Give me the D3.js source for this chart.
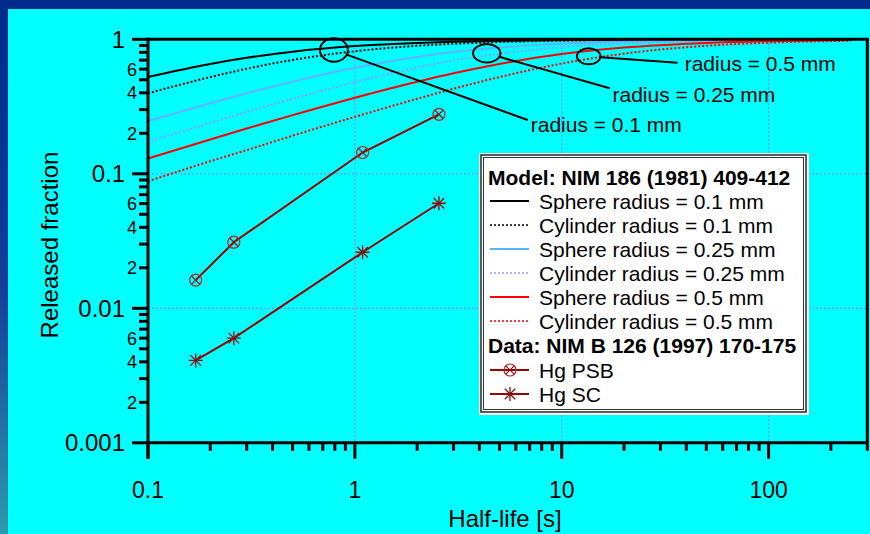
<!DOCTYPE html>
<html>
<head>
<meta charset="utf-8">
<script src="https://cdn.jsdelivr.net/npm/d3@7"></script>
<style>
  html, body { margin: 0; padding: 0; background: #00ffff; }
  svg { display: block; font-family: "Liberation Sans", Arial, sans-serif; }
</style>
</head>
<body>
<svg id="chart" width="870" height="534"></svg>
<script>
// Half-life grid (s) for the diffusion-release model curves
const halfLife = [0.1, 0.2, 0.3, 0.5, 1, 2, 3, 5, 10, 20, 50, 100, 250];

// Released fraction, model NIM 186 (1981) 409-412
const sphere01   = [0.525, 0.656, 0.729, 0.809, 0.890, 0.940, 0.959, 0.975, 0.987, 0.994, 0.997, 0.999, 0.9995];
const cylinder01 = [0.397, 0.524, 0.604, 0.702, 0.815, 0.895, 0.927, 0.954, 0.976, 0.988, 0.995, 0.998, 0.999];
const sphere025   = [0.247, 0.335, 0.397, 0.484, 0.614, 0.740, 0.803, 0.868, 0.927, 0.962, 0.984, 0.992, 0.997];
const cylinder025 = [0.173, 0.239, 0.288, 0.361, 0.481, 0.617, 0.695, 0.782, 0.873, 0.931, 0.971, 0.985, 0.994];
const sphere05   = [0.130, 0.180, 0.217, 0.273, 0.368, 0.484, 0.560, 0.656, 0.776, 0.868, 0.940, 0.969, 0.987];
const cylinder05 = [0.088, 0.124, 0.150, 0.192, 0.265, 0.361, 0.429, 0.524, 0.660, 0.782, 0.895, 0.944, 0.976];

// Measured Hg release, NIM B 126 (1997) 170-175
const hgHalfLife = [0.17, 0.26, 1.09, 2.55];
const hgPSB = [0.0162, 0.031, 0.144, 0.277];
const hgSC  = [0.0041, 0.0060, 0.0261, 0.0604];

// Axis ticks and labels
const xMajorTicks = [0.1, 1, 10, 100];
const xTickLabels = ["0.1", "1", "10", "100"];
const yMajorTicks = [1, 0.1, 0.01, 0.001];
const yTickLabels = ["1", "0.1", "0.01", "0.001"];
const yMinorLabelled = [2, 4, 6];

// Callouts: ellipse centre, leader end and label anchor, in data units
const calloutLabels = ["radius = 0.1 mm", "radius = 0.25 mm", "radius = 0.5 mm"];
const calloutCentre = [[0.792, 0.833], [4.34, 0.788], [13.5, 0.747]];
const calloutLeaderEnd = [[6.85, 0.251], [17.06, 0.432], [36.3, 0.67]];
const calloutText = [[7.08, 0.2056], [17.6, 0.3436], [39.3, 0.584]];

const W = 870, H = 534;
const svg = d3.select("#chart");

// Background: blue gradient frame with cyan panel
const defs = svg.append("defs");
const grad = defs.append("linearGradient").attr("id", "bg")
  .attr("x1", 0).attr("y1", 0).attr("x2", 0).attr("y2", 1);
grad.append("stop").attr("offset", 0).attr("stop-color", "#002a8c");
grad.append("stop").attr("offset", 0.55).attr("stop-color", "#143e9a");
grad.append("stop").attr("offset", 1).attr("stop-color", "#2e9aae");
svg.append("rect").attr("width", W).attr("height", H).attr("fill", "url(#bg)");
svg.append("rect").attr("x", 8).attr("y", 9).attr("width", W - 8).attr("height", H - 9).attr("fill", "#00ffff");

const x = d3.scaleLog().domain([0.1, 300]).range([148, 867.3]);
const y = d3.scaleLog().domain([0.001, 1]).range([442.8, 39.3]);

// Grid lines
const grid = svg.append("g").attr("stroke", "#8a7cff").attr("stroke-width", 1).attr("stroke-dasharray", "2,2");
[1, 10, 100].forEach(v => grid.append("line")
  .attr("x1", x(v)).attr("x2", x(v)).attr("y1", y(1)).attr("y2", y(0.001)));
[0.1, 0.01].forEach(v => grid.append("line")
  .attr("x1", x(0.1)).attr("x2", x(300)).attr("y1", y(v)).attr("y2", y(v)));

// Model curves
const models = [
  { name: "Sphere radius = 0.1 mm",    values: sphere01,    color: "#000000", dotted: false },
  { name: "Cylinder radius = 0.1 mm",  values: cylinder01,  color: "#000000", dotted: true },
  { name: "Sphere radius = 0.25 mm",   values: sphere025,   color: "#5cb4ff", dotted: false },
  { name: "Cylinder radius = 0.25 mm", values: cylinder025, color: "#8c9cff", dotted: true },
  { name: "Sphere radius = 0.5 mm",    values: sphere05,    color: "#ff0000", dotted: false },
  { name: "Cylinder radius = 0.5 mm",  values: cylinder05,  color: "#ff0000", dotted: true }
];
const line = d3.line().x(d => x(d[0])).y(d => y(d[1])).curve(d3.curveMonotoneX);
models.forEach(m => {
  svg.append("path")
    .attr("d", line(halfLife.map((t, i) => [t, m.values[i]])))
    .attr("fill", "none").attr("stroke", m.color).attr("stroke-width", 2)
    .attr("stroke-dasharray", m.dotted ? "2,2" : null);
});

// Data series
const dataLine = d3.line().x(d => x(d[0])).y(d => y(d[1]));
const dataColor = "#990000";
function circleCross(g, cx, cy) {
  const r = 6;
  g.append("circle").attr("cx", cx).attr("cy", cy).attr("r", r)
    .attr("fill", "none").attr("stroke", "#b02828").attr("stroke-width", 1.2);
  const k = r * 0.7;
  g.append("path").attr("d", `M${cx - k},${cy - k}L${cx + k},${cy + k}M${cx - k},${cy + k}L${cx + k},${cy - k}`)
    .attr("stroke", "#8a1010").attr("stroke-width", 1.2);
}
function asterisk(g, cx, cy) {
  const r = 7, k = r * 0.75;
  g.append("path")
    .attr("d", `M${cx},${cy - r}L${cx},${cy + r}M${cx - r},${cy}L${cx + r},${cy}` +
               `M${cx - k},${cy - k}L${cx + k},${cy + k}M${cx - k},${cy + k}L${cx + k},${cy - k}`)
    .attr("stroke", "#8a1010").attr("stroke-width", 1.3);
}
const dataG = svg.append("g");
[[hgPSB, circleCross], [hgSC, asterisk]].forEach(([vals, marker]) => {
  const pts = hgHalfLife.map((t, i) => [t, vals[i]]);
  dataG.append("path").attr("d", dataLine(pts)).attr("fill", "none")
    .attr("stroke", dataColor).attr("stroke-width", 2);
  pts.forEach(p => marker(dataG, x(p[0]), y(p[1])));
});

// Axes and frame
const axes = svg.append("g").attr("stroke", "#000").attr("stroke-width", 3).attr("fill", "none");
axes.append("line").attr("x1", x(0.1)).attr("x2", x(300) + 1.5).attr("y1", y(1)).attr("y2", y(1));
axes.append("line").attr("x1", x(300)).attr("x2", x(300)).attr("y1", y(1)).attr("y2", y(0.001));
axes.append("line").attr("x1", x(0.1)).attr("x2", x(300) + 1.5).attr("y1", y(0.001)).attr("y2", y(0.001));
axes.append("line").attr("x1", x(0.1)).attr("x2", x(0.1)).attr("y1", y(1) - 1.5).attr("y2", y(0.001) + 16);

// X ticks
xMajorTicks.forEach(v => axes.append("line").attr("x1", x(v)).attr("x2", x(v))
  .attr("y1", y(0.001)).attr("y2", y(0.001) + 16));
const xMinor = [];
[0.1, 1, 10, 100].forEach(d => { for (let k = 2; k <= 9; k++) if (d * k <= 300) xMinor.push(d * k); });
xMinor.forEach(v => axes.append("line").attr("x1", x(v)).attr("x2", x(v))
  .attr("y1", y(0.001)).attr("y2", y(0.001) + 8));

// Y ticks
yMajorTicks.forEach(v => axes.append("line").attr("x1", x(0.1) - 16).attr("x2", x(0.1))
  .attr("y1", y(v)).attr("y2", y(v)));
const yMinor = [];
[0.001, 0.01, 0.1].forEach(d => { for (let k = 2; k <= 9; k++) yMinor.push([d * k, k]); });
yMinor.forEach(([v]) => axes.append("line").attr("x1", x(0.1) - 9).attr("x2", x(0.1))
  .attr("y1", y(v)).attr("y2", y(v)));

// Tick labels
const labels = svg.append("g").attr("fill", "#000");
xMajorTicks.forEach((v, i) => labels.append("text").attr("x", x(v)).attr("y", 498)
  .attr("text-anchor", "middle").attr("font-size", 23).text(xTickLabels[i]));
yMajorTicks.forEach((v, i) => labels.append("text").attr("x", 125).attr("y", y(v))
  .attr("dy", "0.36em").attr("text-anchor", "end").attr("font-size", 24).text(yTickLabels[i]));
yMinor.filter(([, k]) => yMinorLabelled.includes(k)).forEach(([v, k]) =>
  labels.append("text").attr("x", 137).attr("y", y(v)).attr("dy", "0.36em")
    .attr("text-anchor", "end").attr("font-size", 18).text(k));

// Axis titles
labels.append("text").attr("x", 505).attr("y", 527).attr("text-anchor", "middle")
  .attr("font-size", 24).text("Half-life [s]");
labels.append("text").attr("transform", "translate(58,245) rotate(-90)")
  .attr("text-anchor", "middle").attr("font-size", 24).text("Released fraction");

// Callouts
const call = svg.append("g");
const rx = [14, 13.7, 11.8], ry = [11.7, 9.2, 8];
calloutLabels.forEach((lab, i) => {
  const cx = x(calloutCentre[i][0]), cy = y(calloutCentre[i][1]);
  const ex = x(calloutLeaderEnd[i][0]), ey = y(calloutLeaderEnd[i][1]);
  const dx = ex - cx, dy = ey - cy;
  const t = 1 / Math.sqrt((dx / rx[i]) ** 2 + (dy / ry[i]) ** 2);
  call.append("ellipse").attr("cx", cx).attr("cy", cy).attr("rx", rx[i]).attr("ry", ry[i])
    .attr("fill", "none").attr("stroke", "#000").attr("stroke-width", 2);
  call.append("line").attr("x1", cx + dx * t).attr("y1", cy + dy * t).attr("x2", ex).attr("y2", ey)
    .attr("stroke", "#000").attr("stroke-width", 2);
  call.append("text").attr("x", x(calloutText[i][0])).attr("y", y(calloutText[i][1]))
    .attr("font-size", 21).text(lab);
});

// Legend: white box with a dark double border
const lg = svg.append("g");
lg.append("rect").attr("x", 479).attr("y", 153).attr("width", 330).attr("height", 262).attr("fill", "#fff");
lg.append("rect").attr("x", 481).attr("y", 155).attr("width", 325).attr("height", 257)
  .attr("fill", "#fff").attr("stroke", "#333").attr("stroke-width", 1.6);
lg.append("rect").attr("x", 483.5).attr("y", 157.5).attr("width", 320).attr("height", 252)
  .attr("fill", "none").attr("stroke", "#333").attr("stroke-width", 1);
const rowY = i => 177 + i * 24;
lg.append("text").attr("x", 488).attr("y", rowY(0)).attr("dy", "0.36em")
  .attr("font-size", 21).attr("font-weight", "bold").text("Model: NIM 186 (1981) 409-412");
models.forEach((m, i) => {
  const yy = rowY(i + 1);
  lg.append("line").attr("x1", 490).attr("x2", 529).attr("y1", yy).attr("y2", yy)
    .attr("stroke", m.color).attr("stroke-width", m.dotted ? 1.5 : 2)
    .attr("stroke-dasharray", m.dotted ? "2,2" : null);
  lg.append("text").attr("x", 539).attr("y", yy).attr("dy", "0.36em").attr("font-size", 21).text(m.name);
});
lg.append("text").attr("x", 488).attr("y", rowY(7)).attr("dy", "0.36em")
  .attr("font-size", 21).attr("font-weight", "bold").text("Data: NIM B 126 (1997) 170-175");
[["Hg PSB", circleCross], ["Hg SC", asterisk]].forEach(([name, marker], i) => {
  const yy = rowY(8 + i) + 1;
  lg.append("line").attr("x1", 490).attr("x2", 529).attr("y1", yy).attr("y2", yy)
    .attr("stroke", dataColor).attr("stroke-width", 2);
  marker(lg, 510, yy);
  lg.append("text").attr("x", 539).attr("y", yy).attr("dy", "0.36em").attr("font-size", 21).text(name);
});
</script>
</body>
</html>
